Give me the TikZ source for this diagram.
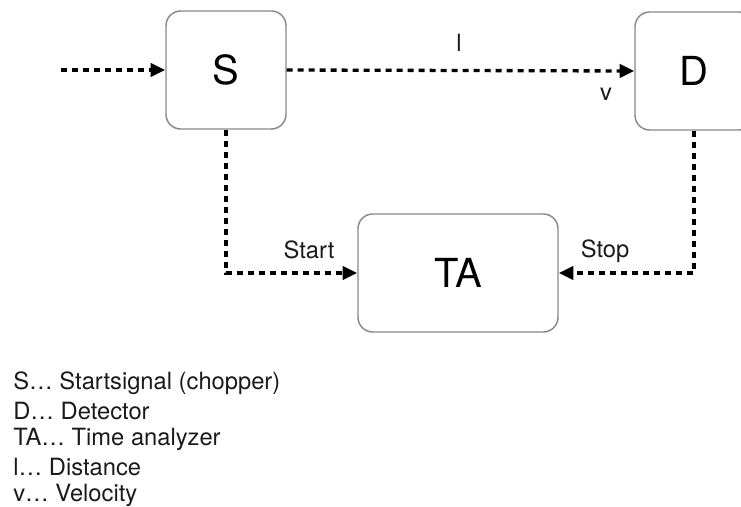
\documentclass[tikz,border=0pt]{standalone}
\usepackage{fontspec}
\setmainfont{TeX Gyre Heros}
\usetikzlibrary{arrows.meta}
\definecolor{boxgray}{HTML}{8A8A8A}
\definecolor{inkgray}{HTML}{1A1A1A}
\begin{document}
\begin{tikzpicture}[x=0.75pt,y=-0.75pt,
  blk/.style={draw=boxgray, line width=1.1pt, rounded corners=11pt, fill=white,
    font=\fontsize{30}{36}\selectfont, inner sep=0pt, minimum height=88.5pt},
  flow/.style={line width=2.5pt, dash pattern=on 4.5pt off 3.75pt,
    -{Triangle[length=11pt,width=10pt]}},
  lbl/.style={font=\fontsize{17.8}{21}\selectfont, inner sep=0pt, text=inkgray},
  legend/.style={lbl, anchor=west},
]
\useasboundingbox (0,0) rectangle (741,506);

% blocks
\node[blk, minimum width=90pt]  (S)  at (226,70)  {S};
\node[blk, minimum width=88.5pt] (D)  at (694,71)  {D};
\node[blk, minimum width=150pt] (TA) at (458,273) {TA};

% signal paths
\coordinate (in) at (61,70);
\draw[flow] (in) -- (S.west);
\draw[flow] (S.east) -- (D.west);
\draw[flow] (S.south) |- (TA.west);
\draw[flow] (D.south) |- (TA.east);

% path labels
\node[lbl] (l)     at (459,43)  {l};
\node[lbl] (v)     at (606,94)  {v};
\node[lbl] (start) at (309,250) {Start};
\node[lbl] (stop)  at (605,251) {Stop};

% legend
\node[legend] (k1) at (13,383) {S… Startsignal (chopper)};
\node[legend] (k2) at (13,411) {D… Detector};
\node[legend] (k3) at (13,439) {TA… Time analyzer};
\node[legend] (k4) at (13,467) {l… Distance};
\node[legend] (k5) at (13,495) {v… Velocity};
\end{tikzpicture}
\end{document}
